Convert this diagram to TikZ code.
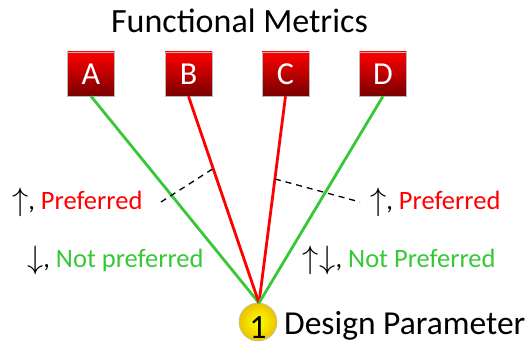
\documentclass[tikz,border=0pt]{standalone}
\usepackage{fontspec}
\setmainfont{Carlito}
\usetikzlibrary{calc}
\definecolor{lgreen}{RGB}{55,200,55}
\definecolor{lred}{RGB}{255,0,0}
\definecolor{dred}{RGB}{120,0,0}
\definecolor{gold}{RGB}{235,195,0}
\newcommand{\upa}{\raisebox{-1pt}{\scalebox{1.3}{$\uparrow$}}}
\newcommand{\dna}{\raisebox{-1pt}{\scalebox{1.3}{$\downarrow$}}}
\tikzset{
  metric/.style={minimum width=47pt, minimum height=44pt, inner sep=0pt, draw=gray!55, line width=0.5pt,
    top color=lred, middle color=lred!80!dred, bottom color=dred, text=white, font=\fontsize{32}{32}\selectfont},
  goodline/.style={draw=lgreen, line width=2.8pt},
  badline/.style={draw=lred, line width=2.8pt},
  leader/.style={draw=black, line width=1.3pt, dash pattern=on 6pt off 5pt},
  lbl/.style={anchor=base west, inner sep=0pt, font=\fontsize{26.5}{26.5}\selectfont},
}
\begin{document}
\begin{tikzpicture}[x=1pt,y=-1pt]
\useasboundingbox (0,0) rectangle (531,344);
\node[anchor=base, inner sep=0pt, font=\fontsize{34}{34}\selectfont] (title) at (239.5,33) {Functional Metrics};
\node[metric] (A) at (91,74) {A};
\node[metric] (B) at (188.5,74) {B};
\node[metric] (C) at (285.5,74) {C};
\node[metric] (D) at (383,74) {D};
\node[circle, minimum size=38pt, inner sep=0pt, draw=gray!50, line width=0.6pt,
  inner color=yellow, outer color=gold] (P) at (258,322) {};
\node[anchor=base, inner sep=0pt, font=\fontsize{34}{34}\selectfont] (one) at (258,339) {1};
\coordinate (top) at (259,303);
\draw[goodline] (A.south) -- (top);
\draw[badline] (B.south) -- (top);
\draw[badline] (C.south) -- (top);
\draw[goodline] (D.south) -- (top);
\coordinate (ldash) at (161,202);
\coordinate (rdash) at (360,202);
\draw[leader] (ldash) -- ($(B.south)!0.35!(top)$);
\draw[leader] ($(C.south)!0.40!(top)$) -- (rdash);
\node[lbl] (lp) at (12,210) {\upa, \textcolor{lred}{Preferred}};
\node[lbl] (rp) at (370,210) {\upa, \textcolor{lred}{Preferred}};
\node[lbl] (ln) at (27,268) {\dna, \textcolor{lgreen}{Not preferred}};
\node[lbl] (rn) at (302,268) {\upa\kern1pt\dna, \textcolor{lgreen}{Not Preferred}};
\node[anchor=base west, inner sep=0pt, font=\fontsize{33.5}{33.5}\selectfont] (dp) at (284,335) {Design Parameter};
\end{tikzpicture}
\end{document}
